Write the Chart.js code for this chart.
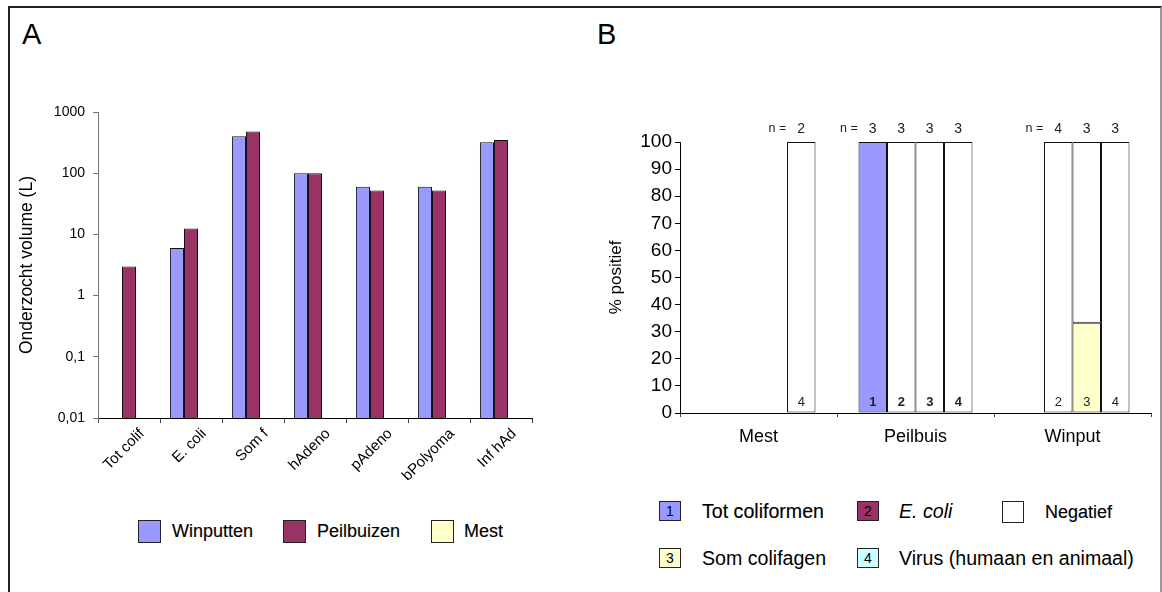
<!DOCTYPE html>
<html>
<head>
<meta charset="utf-8">
<script src="https://cdn.jsdelivr.net/npm/chart.js@4/dist/chart.umd.min.js"></script>
<style>
  body { margin: 0; width: 1162px; height: 592px; overflow: hidden; background: #fff;
         font-family: "Liberation Sans", Arial, sans-serif; color: #000; }
  #frame { position: absolute; left: 8px; top: 6px; width: 1150px; height: 620px;
           border-top: 2px solid #222; border-left: 2px solid #222; border-right: 2px solid #999; }
  .panel { position: absolute; top: 20px; font-size: 29px; line-height: 29px; }
  canvas { position: absolute; }
  .leg { position: absolute; display: flex; align-items: center; height: 24px; white-space: nowrap; }
  .heavy { -webkit-text-stroke: 0.15px #000; }
  .box { box-sizing: border-box; border: 1px solid #222; display: flex; align-items: center;
         justify-content: center; font-size: 14px; }
</style>
</head>
<body>
<div id="frame"></div>
<div class="panel" style="left:22px">A</div>
<div class="panel" style="left:597px">B</div>
<canvas id="chartA" style="left:0;top:0" width="570" height="480"></canvas>
<canvas id="chartB" style="left:570px;top:0" width="592" height="470"></canvas>
<div id="legendA"></div>
<div id="legendB"></div>
<script>
// ---- panel A data ----
const catA = ["Tot colif", "E. coli", "Som f", "hAdeno", "pAdeno", "bPolyoma", "Inf hAd"];
const winputten = [null, 6, 400, 100, 60, 60, 320];
const peilbuizen = [3, 12.5, 480, 100, 52, 52, 350];
const mest = [null, null, null, null, null, null, null];
const yTicksA = [0.01, 0.1, 1, 10, 100, 1000];
const yLabelsA = ["0,01", "0,1", "1", "10", "100", "1000"];

// ---- panel B data ----
const groupsB = ["Mest", "Peilbuis", "Winput"];
const totColiformen = [null, 100, null];
const eColi = [null, 0, 0];
const somColifagen = [null, 0, 33.3];
const virus = [0, 0, 0];
const negatief1 = [null, 0, null];
const negatief2 = [null, 100, 100];
const negatief3 = [null, 100, 66.7];
const negatief4 = [100, 100, 100];
const nStack1 = [null, 3, null];
const nStack2 = [null, 3, 4];
const nStack3 = [null, 3, 3];
const nStack4 = [2, 3, 3];

const blue = "#9999FF", purple = "#993366", yellow = "#FFFFCC", cyan = "#CCFFFF", white = "#FFFFFF";
const font = "'Liberation Sans', Arial, sans-serif";

// ---- chart A ----
new Chart(document.getElementById("chartA"), {
    type: "bar",
    data: {
        labels: catA,
        datasets: [
            { label: "Winputten", data: winputten, backgroundColor: blue },
            { label: "Peilbuizen", data: peilbuizen, backgroundColor: purple },
            { label: "Mest", data: mest, backgroundColor: yellow },
        ],
    },
    options: {
        responsive: false,
        animation: false,
        layout: { padding: { top: 112, right: 38, left: 0, bottom: 0 } },
        datasets: { bar: { borderColor: "#111", borderWidth: 1, categoryPercentage: 0.68, barPercentage: 1 } },
        plugins: { legend: { display: false }, tooltip: { enabled: false } },
        scales: {
            x: {
                grid: { offset: true, drawOnChartArea: false, tickLength: 5, color: "#444" },
                border: { color: "#000" },
                ticks: { font: { family: font, size: 15 }, color: "#000", minRotation: 45, maxRotation: 45, labelOffset: 13, padding: 2 },
                afterFit: (s) => { s.height = 62; },
            },
            y: {
                type: "logarithmic",
                min: 0.01,
                max: 1000,
                grid: { drawOnChartArea: false, tickLength: 5, color: "#777" },
                border: { color: "#777" },
                afterBuildTicks: (s) => { s.ticks = yTicksA.map((v) => ({ value: v, major: true })); },
                ticks: {
                    font: { family: font, size: 14 }, color: "#000", padding: 8,
                    callback: (v) => yLabelsA[yTicksA.indexOf(v)],
                },
                title: { display: true, text: "Onderzocht volume (L)", font: { family: font, size: 17.5 }, color: "#000", padding: { top: 17, bottom: 0 } },
                afterFit: (s) => { s.width = 98; },
            },
        },
    },
});

// ---- chart B ----
const nStacks = [nStack1, nStack2, nStack3, nStack4];
const barLabels = {
    id: "barLabels",
    afterDatasetsDraw(chart) {
        const ctx = chart.ctx;
        const area = chart.chartArea;
        ctx.save();
        ctx.textAlign = "center";
        ctx.textBaseline = "middle";
        groupsB.forEach((g, i) => {
            let first = true;
            nStacks.forEach((ns, s) => {
                if (ns[i] === null) return;
                // the Negatief dataset of each stack sits at index 4 + s
                const el = chart.getDatasetMeta(4 + s).data[i];
                ctx.fillStyle = "#222";
                ctx.font = (i === 1 ? "bold " : "") + "13px " + font;
                ctx.fillText(String(s + 1), el.x, area.bottom - 11);
                ctx.font = "14px " + font;
                ctx.fillText(String(ns[i]), el.x, area.top - 13);
                if (first) {
                    ctx.textAlign = "right";
                    ctx.font = "12.5px " + font;
                    ctx.fillText("n =", el.x - 15, area.top - 13);
                    ctx.textAlign = "center";
                    first = false;
                }
            });
        });
        ctx.restore();
    },
};

const segB = (label, data, color, stack) => ({ label, data, backgroundColor: color, stack });

new Chart(document.getElementById("chartB"), {
    type: "bar",
    data: {
        labels: groupsB,
        datasets: [
            segB("Tot coliformen", totColiformen, blue, "1"),
            segB("E. coli", eColi, purple, "2"),
            segB("Som colifagen", somColifagen, yellow, "3"),
            segB("Virus (humaan en animaal)", virus, cyan, "4"),
            segB("Negatief", negatief1, white, "1"),
            segB("Negatief", negatief2, white, "2"),
            segB("Negatief", negatief3, white, "3"),
            segB("Negatief", negatief4, white, "4"),
        ],
    },
    options: {
        responsive: false,
        animation: false,
        layout: { padding: { top: 142, right: 11, left: 0, bottom: 0 } },
        datasets: { bar: { borderColor: "#111", borderWidth: 1, borderSkipped: false, categoryPercentage: 0.726, barPercentage: 1 } },
        plugins: { legend: { display: false }, tooltip: { enabled: false } },
        scales: {
            x: {
                stacked: true,
                grid: { offset: true, drawOnChartArea: false, tickLength: 4, color: "#444" },
                border: { color: "#000" },
                ticks: { font: { family: font, size: 18 }, color: "#000", padding: 9 },
                afterFit: (s) => { s.height = 57; },
            },
            y: {
                stacked: true,
                min: 0,
                max: 100,
                grid: { drawOnChartArea: false, tickLength: 5, color: "#000" },
                border: { color: "#000" },
                ticks: { stepSize: 10, font: { family: font, size: 19 }, color: "#000", padding: 3 },
                title: { display: true, text: "% positief", font: { family: font, size: 17 }, color: "#000", padding: { top: 36, bottom: 0 } },
                afterFit: (s) => { s.width = 110; },
            },
        },
    },
    plugins: [barLabels],
});

// ---- HTML legends ----
function legendItem(parent, left, top, boxSize, color, num, text, textLeft, fontSize, extra) {
    const b = document.createElement("div");
    b.className = "box";
    b.style.cssText = `position:absolute;left:${left}px;top:${top}px;width:${boxSize[0]}px;height:${boxSize[1]}px;background:${color}`;
    if (num) b.textContent = num;
    parent.appendChild(b);
    const t = document.createElement("div");
    t.className = "leg" + (extra && extra.heavy ? " heavy" : "");
    t.style.cssText = `left:${textLeft}px;top:${top + boxSize[1] / 2 - 12}px;font-size:${fontSize}px;` + (extra && extra.italic ? "font-style:italic;" : "");
    t.textContent = text;
    parent.appendChild(t);
}
const lA = document.getElementById("legendA");
legendItem(lA, 138, 520, [23, 23], blue, "", "Winputten", 172, 18, { heavy: true });
legendItem(lA, 283, 520, [23, 23], purple, "", "Peilbuizen", 317, 18, { heavy: true });
legendItem(lA, 431, 520, [23, 23], yellow, "", "Mest", 464, 18, { heavy: true });
const lB = document.getElementById("legendB");
legendItem(lB, 659, 501, [22, 20], blue, "1", "Tot coliformen", 702, 19.6, { heavy: true });
legendItem(lB, 857, 501, [22, 20], purple, "2", "E. coli", 899, 19.6, { italic: true });
legendItem(lB, 1002, 501, [22, 22], white, "", "Negatief", 1045, 18, { heavy: true });
legendItem(lB, 659, 548, [22, 20], yellow, "3", "Som colifagen", 702, 19.6);
legendItem(lB, 857, 548, [22, 20], cyan, "4", "Virus (humaan en animaal)", 899, 19.6);
</script>
</body>
</html>
